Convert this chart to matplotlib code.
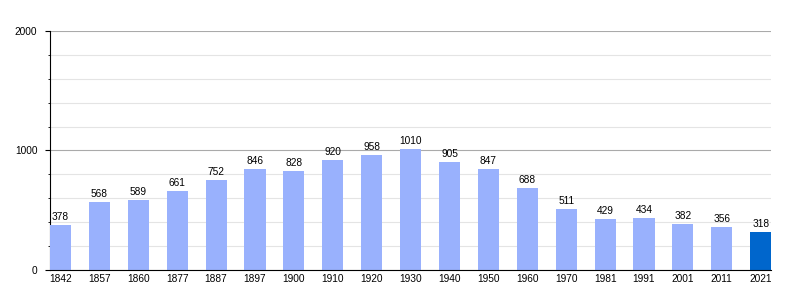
import matplotlib.pyplot as plt
import numpy as np
from matplotlib.ticker import MultipleLocator

plt.rcParams["font.family"] = ["Liberation Sans", "DejaVu Sans"]

years = ["1842", "1857", "1860", "1877", "1887", "1897", "1900", "1910", "1920", "1930",
         "1940", "1950", "1960", "1970", "1981", "1991", "2001", "2011", "2021"]
population = [378, 568, 589, 661, 752, 846, 828, 920, 958, 1010,
              905, 847, 688, 511, 429, 434, 382, 356, 318]

fig = plt.figure(figsize=(8, 3), dpi=100)
ax = fig.add_axes([0.0625, 0.1, 0.9015, 0.797])

x = np.arange(len(years))
w = 0.54
colors = ["#99b1fd"] * (len(years) - 1) + ["#0066cc"]
ax.bar(x, population, width=w, color=colors, zorder=3)

for xi, v in zip(x, population):
    ax.text(xi, v + 25, str(v), ha="center", va="bottom", fontsize=7.3, zorder=4)

ax.set_xlim(-w / 2, len(years) - 1 + w / 2)
ax.set_ylim(0, 2000)
ax.set_xticks(x)
ax.set_xticklabels(years, fontsize=7.3)
ax.tick_params(axis="x", length=0, pad=3)

ax.yaxis.set_major_locator(MultipleLocator(1000))
ax.yaxis.set_minor_locator(MultipleLocator(200))
ax.tick_params(axis="y", which="major", length=3.6, labelsize=7.3, pad=5.5)
ax.tick_params(axis="y", which="minor", length=1.8)
ax.grid(axis="y", which="major", color="#aaaaaa", linewidth=0.8, zorder=1)
ax.grid(axis="y", which="minor", color="#e4e4e4", linewidth=0.8, zorder=1)

for s in ["top", "right"]:
    ax.spines[s].set_visible(False)
ax.spines["left"].set_color("black")
ax.spines["bottom"].set_color("black")
ax.spines["bottom"].set_zorder(5)

fig.savefig("out.png", dpi=100)
